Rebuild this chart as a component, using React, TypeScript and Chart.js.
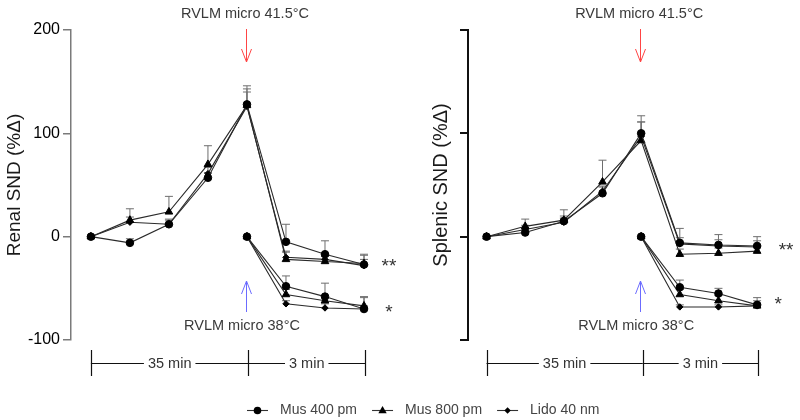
import React, { useEffect, useRef } from 'react';
import { Chart, registerables } from 'chart.js';

Chart.register(...registerables);

const FONT = '"Liberation Sans", Arial, Helvetica, sans-serif';
Chart.defaults.font.family = FONT;

// ---------- data ----------
const seriesNames = ['Mus 400 pm', 'Mus 800 pm', 'Lido 40 nm'];
const pointStyles = ['circle', 'triangle', 'rectRot'];
const pointRadii = [3.8, 4.4, 3.2];

// time points: 0..4 = 35 min (warming to 41.5°C), 4..7 = 3 min after
const heatSteps = [0, 1, 2, 3, 4, 5, 6, 7];
const coolSteps = [4, 5, 6, 7];

const yTicks = [-100, 0, 100, 200];

// Renal SND (%Δ)
const renalHeatMus400 = [0, -6, 12, 57, 128, -5, -17, -27];
const renalHeatMus800 = [0, 16, 24, 70, 127, -22, -24, -26];
const renalHeatLido = [0, 14, 12, 61, 126, -20, -22, -28];
const renalHeatMus400Err = [0, 4, 4, 5, 18, 17, 13, 10];
const renalHeatMus800Err = [0, 11, 15, 18, 16, 8, 5, 8];
const renalHeatLidoErr = [0, 5, 5, 6, 14, 5, 5, 6];
const renalCoolMus400 = [0, -48, -58, -70];
const renalCoolMus800 = [0, -56, -62, -67];
const renalCoolLido = [0, -65, -69, -70];
const renalCoolMus400Err = [0, 10, 13, 12];
const renalCoolMus800Err = [0, 5, 5, 8];
const renalCoolLidoErr = [0, 3, 4, 3];

// Splenic SND (%Δ)
const splenicHeatMus400 = [0, 4, 15, 42, 100, -6, -8, -9];
const splenicHeatMus800 = [0, 10, 16, 53, 93, -17, -16, -14];
const splenicHeatLido = [0, 7, 14, 44, 97, -7, -9, -10];
const splenicHeatMus400Err = [0, 4, 5, 6, 17, 14, 10, 9];
const splenicHeatMus800Err = [0, 7, 10, 21, 18, 5, 5, 5];
const splenicHeatLidoErr = [0, 4, 4, 5, 14, 6, 6, 6];
const splenicCoolMus400 = [0, -49, -55, -66];
const splenicCoolMus800 = [0, -56, -62, -67];
const splenicCoolLido = [0, -68, -68, -67];
const splenicCoolMus400Err = [0, 7, 5, 4];
const splenicCoolMus800Err = [0, 5, 5, 8];
const splenicCoolLidoErr = [0, 2, 2, 2];

const heatLabel = 'RVLM micro 41.5°C';
const coolLabel = 'RVLM micro 38°C';
const periodLabels = ['35 min', '3 min'];

// ---------- helpers ----------
function buildDatasets(heat: number[][], heatErr: number[][], cool: number[][], coolErr: number[][]) {
  const ds: any[] = [];
  const common = (s: number) => ({
    borderColor: '#2a2a2a',
    borderWidth: 1.1,
    pointStyle: pointStyles[s],
    pointRadius: pointRadii[s],
    pointBackgroundColor: '#000',
    pointBorderColor: '#000',
    pointBorderWidth: 1,
    showLine: true,
    tension: 0,
    clip: false,
    label: seriesNames[s],
  });
  heat.forEach((vals, s) => {
    ds.push({ ...common(s), data: heatSteps.map((x, i) => ({ x, y: vals[i] })), errorBars: heatErr[s] });
  });
  cool.forEach((vals, s) => {
    ds.push({ ...common(s), data: coolSteps.map((x, i) => ({ x, y: vals[i] })), errorBars: coolErr[s] });
  });
  return ds;
}

function drawMarker(ctx: CanvasRenderingContext2D, style: string, x: number, y: number, r: number) {
  ctx.beginPath();
  if (style === 'circle') {
    ctx.arc(x, y, r, 0, Math.PI * 2);
  } else if (style === 'triangle') {
    ctx.moveTo(x, y - r);
    ctx.lineTo(x + r * 0.95, y + r * 0.65);
    ctx.lineTo(x - r * 0.95, y + r * 0.65);
    ctx.closePath();
  } else {
    ctx.moveTo(x, y - r);
    ctx.lineTo(x + r, y);
    ctx.lineTo(x, y + r);
    ctx.lineTo(x - r, y);
    ctx.closePath();
  }
  ctx.fill();
}

type OverlayOpts = {
  starsX: number;
  star2Y: number;
  star1Y: number;
  star1DX: number;
  legend: boolean;
};

function overlayPlugin(o: OverlayOpts) {
  return {
    id: 'overlay',
    beforeDatasetsDraw(chart: any) {
      const ctx: CanvasRenderingContext2D = chart.ctx;
      const ys = chart.scales.y;
      ctx.save();
      ctx.strokeStyle = '#6e6e6e';
      ctx.lineWidth = 1;
      chart.data.datasets.forEach((d: any, i: number) => {
        const meta = chart.getDatasetMeta(i);
        (d.errorBars || []).forEach((e: number, j: number) => {
          if (!e) return;
          const p = meta.data[j];
          const top = ys.getPixelForValue(d.data[j].y + e);
          ctx.beginPath();
          ctx.moveTo(p.x, p.y);
          ctx.lineTo(p.x, top);
          ctx.moveTo(p.x - 4, top);
          ctx.lineTo(p.x + 4, top);
          ctx.stroke();
        });
      });
      ctx.restore();
    },
    afterDraw(chart: any) {
      const ctx: CanvasRenderingContext2D = chart.ctx;
      const xs = chart.scales.x;
      const ys = chart.scales.y;
      const x0 = xs.getPixelForValue(0);
      const x4 = xs.getPixelForValue(4);
      const x7 = xs.getPixelForValue(7);
      ctx.save();
      // top label + red arrow
      ctx.font = `14.5px ${FONT}`;
      ctx.fillStyle = '#3a3a3a';
      ctx.textAlign = 'center';
      ctx.textBaseline = 'middle';
      ctx.fillText(heatLabel, x4 - 2, 14);
      ctx.fillText(coolLabel, x4 - 5, 326);
      const ax = Math.round(x4 - 1) + 0.5;
      ctx.strokeStyle = '#ff4444';
      ctx.lineWidth = 1;
      ctx.beginPath();
      ctx.moveTo(ax, 29);
      ctx.lineTo(ax, 62);
      ctx.moveTo(ax - 5, 49);
      ctx.lineTo(ax, 62);
      ctx.lineTo(ax + 5, 49);
      ctx.stroke();
      // blue arrow
      ctx.strokeStyle = '#6b6bff';
      ctx.beginPath();
      ctx.moveTo(ax, 312);
      ctx.lineTo(ax, 281);
      ctx.moveTo(ax - 5, 294);
      ctx.lineTo(ax, 281);
      ctx.lineTo(ax + 5, 294);
      ctx.stroke();
      // bracket
      const by = 363.5;
      ctx.strokeStyle = '#111';
      ctx.lineWidth = 1.2;
      ctx.font = `14.5px ${FONT}`;
      const segs: [number, number, string][] = [
        [x0, x4 + 1.5, periodLabels[0]],
        [x4 + 1.5, x7 + 1, periodLabels[1]],
      ];
      segs.forEach(([a, b, t]) => {
        const mid = (a + b) / 2;
        const w = ctx.measureText(t).width;
        ctx.beginPath();
        ctx.moveTo(a, by);
        ctx.lineTo(mid - w / 2 - 4, by);
        ctx.moveTo(mid + w / 2 + 4, by);
        ctx.lineTo(b, by);
        ctx.stroke();
        ctx.fillStyle = '#333';
        ctx.fillText(t, mid, by + 0.5);
      });
      [x0, x4 + 1.5, x7 + 1].forEach((x) => {
        ctx.beginPath();
        ctx.moveTo(Math.round(x) + 0.5, 350);
        ctx.lineTo(Math.round(x) + 0.5, 376);
        ctx.stroke();
      });
      // stars
      ctx.font = `19px ${FONT}`;
      ctx.fillStyle = '#333';
      ctx.textBaseline = 'alphabetic';
      ctx.fillText('**', x7 + o.starsX, ys.getPixelForValue(o.star2Y) + 11);
      ctx.fillText('*', x7 + o.starsX + o.star1DX, ys.getPixelForValue(o.star1Y) + 11);
      // legend
      if (o.legend) {
        const ly = 410.5;
        let x = 247;
        ctx.font = `14px ${FONT}`;
        ctx.textAlign = 'left';
        ctx.textBaseline = 'middle';
        seriesNames.forEach((name, s) => {
          ctx.strokeStyle = '#333';
          ctx.lineWidth = 1.1;
          ctx.beginPath();
          ctx.moveTo(x, ly);
          ctx.lineTo(x + 21, ly);
          ctx.stroke();
          ctx.fillStyle = '#000';
          drawMarker(ctx, pointStyles[s], x + 10.5, ly, pointRadii[s]);
          ctx.fillStyle = '#444';
          ctx.fillText(name, x + 33, ly);
          x += 33 + ctx.measureText(name).width + 15;
        });
      }
      ctx.restore();
    },
  };
}

type PanelCfg = {
  title: string;
  titleSize: number;
  heat: number[][];
  heatErr: number[][];
  cool: number[][];
  coolErr: number[][];
  axisWidthPx: number;
  titlePad: number;
  axisColor: string;
  axisLine: number;
  tickLabels: boolean;
  xMin: number;
  xMax: number;
  padRight: number;
  overlay: OverlayOpts;
};

function makeChart(canvas: HTMLCanvasElement, c: PanelCfg) {
  return new Chart(canvas, {
    type: 'scatter',
    data: { datasets: buildDatasets(c.heat, c.heatErr, c.cool, c.coolErr) },
    options: {
      responsive: false,
      animation: false,
      devicePixelRatio: 1,
      layout: { padding: { left: 0, top: 30, bottom: 80, right: c.padRight } },
      plugins: { legend: { display: false }, tooltip: { enabled: false } },
      scales: {
        x: { type: 'linear', min: c.xMin, max: c.xMax, display: false },
        y: {
          type: 'linear',
          min: -100,
          max: 200,
          afterBuildTicks: (axis: any) => {
            axis.ticks = yTicks.map((v) => ({ value: v }));
          },
          afterFit: (axis: any) => {
            axis.width = c.axisWidthPx;
          },
          ticks: {
            display: c.tickLabels,
            font: { size: 16 },
            color: '#000',
            padding: 3,
          },
          grid: {
            display: true,
            drawOnChartArea: false,
            drawTicks: true,
            tickLength: 8,
            color: c.axisColor,
            lineWidth: c.axisLine,
          },
          border: { display: true, color: c.axisColor, width: c.axisLine },
          title: {
            display: true,
            text: c.title,
            font: { size: c.titleSize },
            color: '#1a1a1a',
            padding: { top: c.titlePad, bottom: 0 },
          },
        },
      },
    } as any,
    plugins: [overlayPlugin(c.overlay) as any],
  });
}

export default function App() {
  const leftRef = useRef<HTMLCanvasElement>(null);
  const rightRef = useRef<HTMLCanvasElement>(null);

  useEffect(() => {
    const left = makeChart(leftRef.current!, {
      title: 'Renal SND (%Δ)',
      titleSize: 19,
      heat: [renalHeatMus400, renalHeatMus800, renalHeatLido],
      heatErr: [renalHeatMus400Err, renalHeatMus800Err, renalHeatLidoErr],
      cool: [renalCoolMus400, renalCoolMus800, renalCoolLido],
      coolErr: [renalCoolMus400Err, renalCoolMus800Err, renalCoolLidoErr],
      axisWidthPx: 71,
      titlePad: 3,
      axisColor: '#7a7a7a',
      axisLine: 1.5,
      tickLabels: true,
      xMin: -0.51,
      xMax: 7.82,
      padRight: 404,
      overlay: { starsX: 25, star2Y: -24, star1Y: -68, star1DX: 0, legend: true },
    });
    const right = makeChart(rightRef.current!, {
      title: 'Splenic SND (%Δ)',
      titleSize: 20,
      heat: [splenicHeatMus400, splenicHeatMus800, splenicHeatLido],
      heatErr: [splenicHeatMus400Err, splenicHeatMus800Err, splenicHeatLidoErr],
      cool: [splenicCoolMus400, splenicCoolMus800, splenicCoolLido],
      coolErr: [splenicCoolMus400Err, splenicCoolMus800Err, splenicCoolLidoErr],
      axisWidthPx: 68,
      titlePad: 29,
      axisColor: '#111',
      axisLine: 2,
      tickLabels: false,
      xMin: -0.48,
      xMax: 7.97,
      padRight: 4,
      overlay: { starsX: 29, star2Y: -8, star1Y: -60, star1DX: -8, legend: false },
    });
    return () => {
      left.destroy();
      right.destroy();
    };
  }, []);

  return (
    <div style={{ position: 'fixed', left: 0, top: 0, width: 800, height: 420, background: '#fff' }}>
      <canvas ref={leftRef} width={800} height={420} style={{ position: 'absolute', left: 0, top: 0 }} />
      <canvas ref={rightRef} width={400} height={420} style={{ position: 'absolute', left: 400, top: 0 }} />
    </div>
  );
}
